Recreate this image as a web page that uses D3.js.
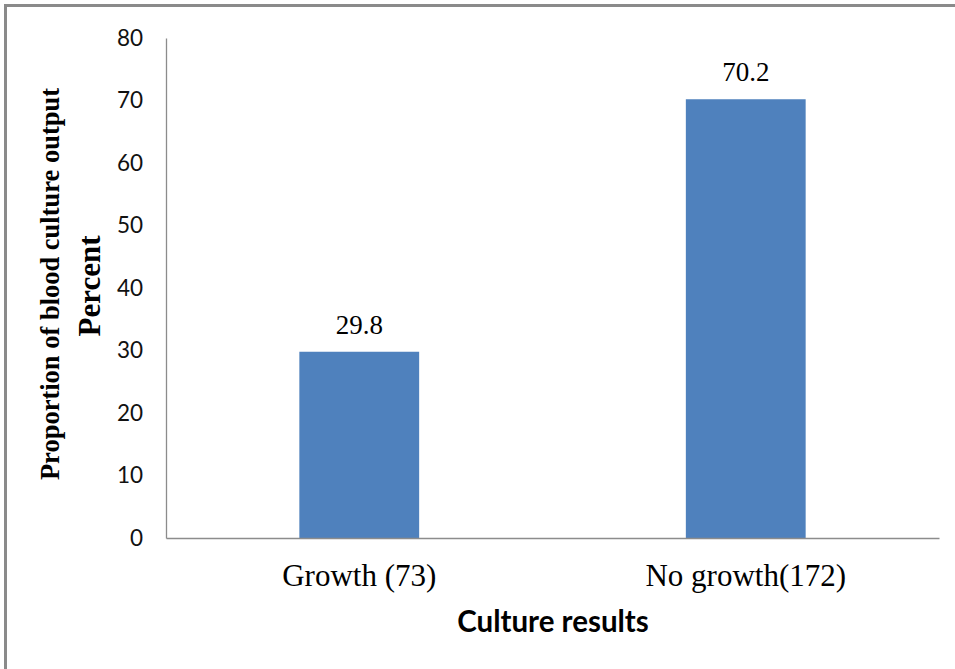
<!DOCTYPE html>
<html>
<head>
<meta charset="utf-8">
<script src="https://cdn.jsdelivr.net/npm/d3@7"></script>
<style>
  html, body { margin: 0; padding: 0; background: #fff; }
  svg { display: block; }
</style>
</head>
<body>
<svg id="chart" width="955" height="669"></svg>
<script>
const categories = ["Growth (73)", "No growth(172)"];
const percentValues = [29.8, 70.2];
const valueLabels = ["29.8", "70.2"];
const yTicks = [0, 10, 20, 30, 40, 50, 60, 70, 80];
const yTitleLine1 = "Proportion of blood culture output";
const yTitleLine2 = "Percent";
const xTitle = "Culture results";

const svg = d3.select("#chart");

// outer frame (top and left edges visible)
svg.append("path")
  .attr("d", "M5.5,669 L5.5,5.5 L955,5.5")
  .attr("fill", "none")
  .attr("stroke", "#8a8a8a")
  .attr("stroke-width", 3);

const x = d3.scaleBand()
  .domain(categories)
  .range([166, 939])
  .paddingInner(0.69)
  .paddingOuter(0.345);

const y = d3.scaleLinear()
  .domain([0, 80])
  .range([538, 38]);

// bars
svg.selectAll("rect.bar")
  .data(categories)
  .enter().append("rect")
  .attr("class", "bar")
  .attr("x", d => x(d))
  .attr("width", x.bandwidth())
  .attr("y", (d, i) => y(percentValues[i]))
  .attr("height", (d, i) => y(0) - y(percentValues[i]))
  .attr("fill", "#4f81bd");

// y axis
const yAxis = d3.axisLeft(y).tickValues(yTicks).tickSize(0).tickPadding(23);
const gy = svg.append("g").attr("transform", "translate(166,0)").call(yAxis);
gy.select(".domain").attr("stroke", "#8c8c8c").attr("stroke-width", 1.3);
gy.selectAll("text")
  .attr("font-family", "Lato, 'Open Sans', sans-serif")
  .attr("font-size", "22.5px")
  .attr("fill", "#111");

// x axis
const xAxis = d3.axisBottom(x).tickSize(0).tickPadding(26);
const gx = svg.append("g").attr("transform", "translate(0,538)").call(xAxis);
gx.select(".domain").attr("stroke", "#8c8c8c").attr("stroke-width", 1.3);
gx.selectAll("text")
  .attr("font-family", "'Liberation Serif', 'Times New Roman', serif")
  .attr("font-size", "31px")
  .attr("fill", "#000");

// value labels
svg.selectAll("text.val")
  .data(categories)
  .enter().append("text")
  .attr("class", "val")
  .attr("x", d => x(d) + x.bandwidth() / 2)
  .attr("y", (d, i) => y(percentValues[i]) - 18)
  .attr("text-anchor", "middle")
  .attr("font-family", "'Liberation Serif', 'Times New Roman', serif")
  .attr("font-size", "27px")
  .attr("fill", "#000")
  .text((d, i) => valueLabels[i]);

// y title
svg.append("text")
  .attr("transform", "translate(59,284) rotate(-90)")
  .attr("text-anchor", "middle")
  .attr("font-family", "'Liberation Serif', 'Times New Roman', serif")
  .attr("font-weight", "bold")
  .attr("font-size", "26.5px")
  .attr("fill", "#000")
  .text(yTitleLine1);
svg.append("text")
  .attr("transform", "translate(100,286) rotate(-90)")
  .attr("text-anchor", "middle")
  .attr("font-family", "'Liberation Serif', 'Times New Roman', serif")
  .attr("font-weight", "bold")
  .attr("font-size", "31px")
  .attr("fill", "#000")
  .text(yTitleLine2);

// x title
svg.append("text")
  .attr("x", 553)
  .attr("y", 632)
  .attr("text-anchor", "middle")
  .attr("font-family", "Lato, 'Open Sans', sans-serif")
  .attr("font-weight", "bold")
  .attr("font-size", "29.5px")
  .attr("fill", "#000")
  .text(xTitle);
</script>
</body>
</html>
